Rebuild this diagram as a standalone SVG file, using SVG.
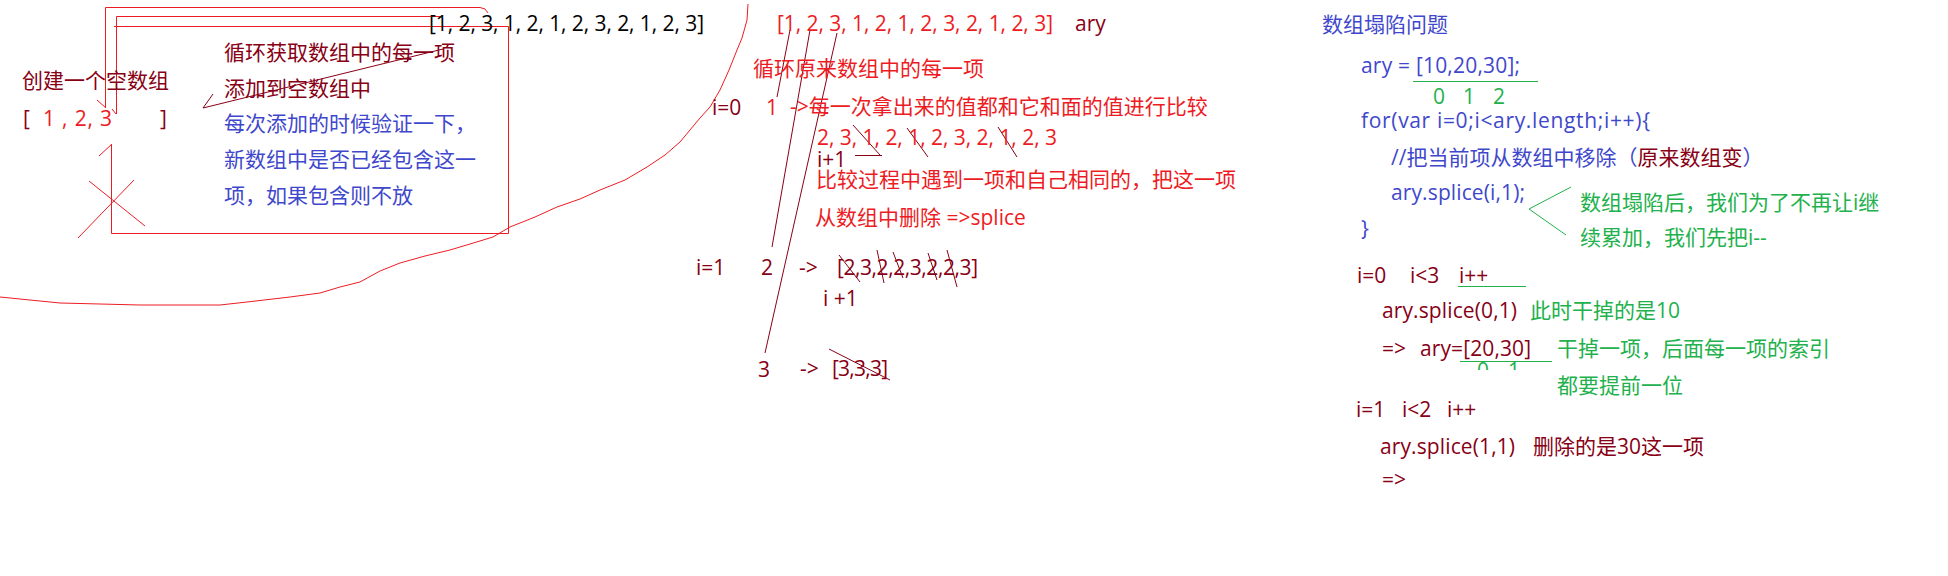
<svg xmlns="http://www.w3.org/2000/svg" width="1948" height="576" viewBox="0 0 1948 576">
<style>
text{font-family:"Open Sans","Noto Sans CJK SC",sans-serif;font-size:21px}
.dr{fill:#880015}.r{fill:#ED1C24}.b{fill:#3F48CC}.g{fill:#22B14C}.k{fill:#000}
.ln{fill:none;stroke-width:1}
.sr{stroke:#ED1C24}.sdr{stroke:#880015}.sg{stroke:#22B14C}
</style>
<defs>
<clipPath id="clipIdx"><rect x="1450" y="361" width="120" height="9"/></clipPath>
</defs>
<rect width="1948" height="576" fill="#fff"/>

<g id="connectors">
  <!-- boxes on the left -->
  <polyline class="ln sr" points="105.5,107 105.5,7.5 480,7.5 485,9 488,13"/>
  <polyline class="ln sr" points="116.5,114 116.5,16.5 440,16.5"/>
  <polyline class="ln sr" points="114,26.5 508.5,26.5 508.5,233.5 111.5,233.5 111.5,145"/>
  <line class="ln sr" x1="97" y1="100" x2="106" y2="108"/>
  <line class="ln sr" x1="112" y1="109" x2="116" y2="114"/>
  <line class="ln sr" x1="99" y1="156" x2="112" y2="144"/>
  <line class="ln sr" x1="89" y1="181" x2="145" y2="226"/>
  <line class="ln sr" x1="134" y1="180" x2="78" y2="238"/>
  <!-- arrow from text to array -->
  <line class="ln sdr" x1="443" y1="49" x2="203" y2="108"/>
  <line class="ln sdr" x1="203" y1="108" x2="213" y2="94"/>
  <!-- big red curve -->
  <polyline class="ln sr" points="748,4 747,20 742,38 737,50 729,70 720,90 710,107 700,118 680,142 665,155 647,167 625,180 600,190 580,199 557,207 535,217 510,227 493,237 470,244 450,250 425,256 400,263 380,271 360,282 340,287 320,293 290,297 247,302 220,305 140,305 60,303 30,300 0,297"/>
  <!-- middle strike lines -->
  <line class="ln sdr" x1="790" y1="30" x2="777" y2="97"/>
  <line class="ln sdr" x1="810" y1="30" x2="772" y2="247"/>
  <line class="ln sdr" x1="837" y1="33" x2="765" y2="353"/>
  <line class="ln sdr" x1="853" y1="125" x2="880" y2="155"/>
  <line class="ln sdr" x1="855" y1="155.5" x2="882" y2="155.5"/>
  <line class="ln sdr" x1="907" y1="128" x2="928" y2="157"/>
  <line class="ln sdr" x1="998" y1="127" x2="1017" y2="157"/>
  <line class="ln sdr" x1="839" y1="255" x2="860" y2="282"/>
  <line class="ln sdr" x1="877" y1="250" x2="884" y2="283"/>
  <line class="ln sdr" x1="893" y1="252" x2="903" y2="278"/>
  <line class="ln sdr" x1="928" y1="253" x2="937" y2="280"/>
  <line class="ln sdr" x1="947" y1="250" x2="957" y2="287"/>
  <line class="ln sdr" x1="829" y1="349" x2="890" y2="380"/>
  <!-- right side green marks -->
  <line class="ln sg" x1="1413" y1="81.5" x2="1538" y2="81.5"/>
  <polyline class="ln sg" points="1571,187 1529,209 1566,235"/>
  <line class="ln sg" x1="1458" y1="286.5" x2="1526" y2="286.5"/>
  <line class="ln sg" x1="1460" y1="361.5" x2="1552" y2="361.5"/>
</g>

<g id="black-array">
  <text class="k" x="429" y="31" textLength="275" lengthAdjust="spacing">[1, 2, 3, 1, 2, 1, 2, 3, 2, 1, 2, 3]</text>
</g>

<g id="left-notes">
  <text class="dr" x="22" y="87.5">创建一个空数组</text>
  <text class="dr" x="23" y="126">[</text>
  <text class="r" x="43" y="126" textLength="69" lengthAdjust="spacing">1 , 2, 3</text>
  <text class="dr" x="160" y="126">]</text>
  <text class="dr" x="224" y="59.5">循环获取数组中的每一项</text>
  <text class="dr" x="224" y="95.5">添加到空数组中</text>
  <text class="b" x="224" y="130.5">每次添加的时候验证一下，</text>
  <text class="b" x="224" y="167">新数组中是否已经包含这一</text>
  <text class="b" x="224" y="203">项，如果包含则不放</text>
</g>

<g id="middle-trace">
  <text class="r" x="777" y="31" textLength="276" lengthAdjust="spacing">[1, 2, 3, 1, 2, 1, 2, 3, 2, 1, 2, 3]</text>
  <text class="dr" x="1075" y="31">ary</text>
  <text class="r" x="753" y="75.5">循环原来数组中的每一项</text>
  <text class="dr" x="712" y="115">i=0</text>
  <text class="r" x="766" y="115">1</text>
  <text class="r" x="790" y="114">-&gt;每一次拿出来的值都和它和面的值进行比较</text>
  <text class="r" x="817" y="145" textLength="240" lengthAdjust="spacing">2, 3, 1, 2, 1, 2, 3, 2, 1, 2, 3</text>
  <text class="dr" x="817" y="167">i+1</text>
  <text class="r" x="816" y="186.5">比较过程中遇到一项和自己相同的，把这一项</text>
  <text class="r" x="815" y="225">从数组中删除 =&gt;splice</text>
  <text class="dr" x="696" y="275">i=1</text>
  <text class="dr" x="761" y="275">2</text>
  <text class="dr" x="799" y="275">-&gt;</text>
  <text class="dr" x="837" y="275" textLength="141" lengthAdjust="spacing">[2,3,2,2,3,2,2,3]</text>
  <text class="dr" x="823" y="306">i +1</text>
  <text class="dr" x="758" y="377">3</text>
  <text class="dr" x="800" y="376">-&gt;</text>
  <text class="dr" x="832" y="376" textLength="56" lengthAdjust="spacing">[3,3,3]</text>
</g>

<g id="right-code">
  <text class="b" x="1322" y="31.5">数组塌陷问题</text>
  <text class="b" x="1361" y="73" textLength="159" lengthAdjust="spacing">ary = [10,20,30];</text>
  <text class="g" x="1433" y="104">0</text>
  <text class="g" x="1463" y="104">1</text>
  <text class="g" x="1493" y="104">2</text>
  <text class="b" x="1361" y="128" textLength="289" lengthAdjust="spacing">for(var i=0;i&lt;ary.length;i++){</text>
  <text x="1391" y="165"><tspan class="b">//把当前项从数组中移除（</tspan><tspan class="dr">原来数组变</tspan><tspan class="b">）</tspan></text>
  <text class="b" x="1391" y="200" textLength="134" lengthAdjust="spacing">ary.splice(i,1);</text>
  <text class="b" x="1361" y="236">}</text>
  <text class="g" x="1580" y="210">数组塌陷后，我们为了不再让i继</text>
  <text class="g" x="1580" y="245">续累加，我们先把i--</text>
</g>

<g id="right-trace">
  <text class="dr" x="1357" y="283">i=0</text>
  <text class="dr" x="1410" y="283">i&lt;3</text>
  <text class="dr" x="1459" y="283">i++</text>
  <text class="dr" x="1382" y="318" textLength="135" lengthAdjust="spacing">ary.splice(0,1)</text>
  <text class="g" x="1530" y="318">此时干掉的是10</text>
  <text class="dr" x="1382" y="356">=&gt;</text>
  <text class="dr" x="1420" y="356" textLength="111" lengthAdjust="spacing">ary=[20,30]</text>
  <g clip-path="url(#clipIdx)">
    <text class="g" x="1477" y="378">0</text>
    <text class="g" x="1508" y="378">1</text>
  </g>
  <text class="g" x="1557" y="356">干掉一项，后面每一项的索引</text>
  <text class="g" x="1557" y="393">都要提前一位</text>
  <text class="dr" x="1356" y="417">i=1</text>
  <text class="dr" x="1402" y="417">i&lt;2</text>
  <text class="dr" x="1447" y="417">i++</text>
  <text class="dr" x="1380" y="454" textLength="135" lengthAdjust="spacing">ary.splice(1,1)</text>
  <text class="dr" x="1533" y="454">删除的是30这一项</text>
  <text class="dr" x="1382" y="487">=&gt;</text>
</g>
</svg>
